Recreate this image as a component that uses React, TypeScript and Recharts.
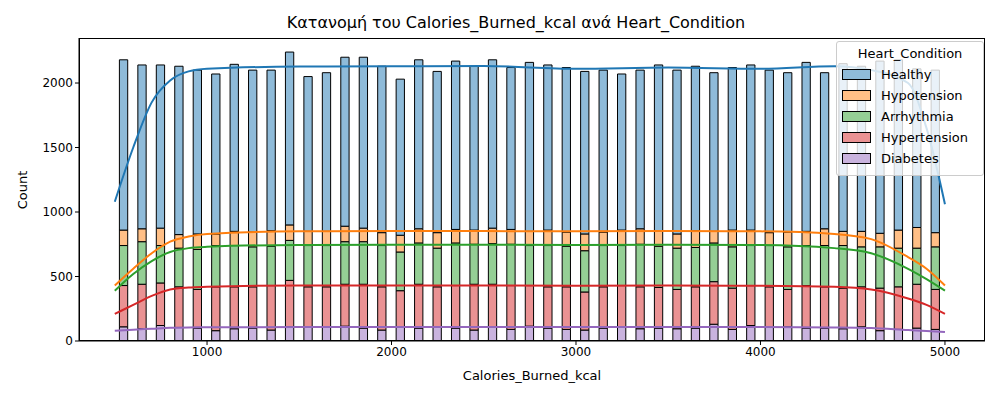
import React from "react"
import { ComposedChart, Bar, Line, XAxis, YAxis } from "recharts"

// histogram bins: 45 bins of width 100 from 500 to 5000 (centers)
const binCenters = [
  550, 650, 750, 850, 950, 1050, 1150, 1250, 1350, 1450, 1550, 1650, 1750, 1850, 1950,
  2050, 2150, 2250, 2350, 2450, 2550, 2650, 2750, 2850, 2950, 3050, 3150, 3250, 3350, 3450,
  3550, 3650, 3750, 3850, 3950, 4050, 4150, 4250, 4350, 4450, 4550, 4650, 4750, 4850, 4950,
]
const diabetes = [110, 95, 120, 105, 100, 80, 95, 100, 85, 110, 105, 110, 115, 100, 85, 110, 100, 110, 100, 85, 110, 90, 115, 100, 90, 85, 100, 110, 95, 100, 95, 100, 130, 90, 120, 105, 110, 100, 100, 95, 110, 80, 90, 100, 90]
const hypertension = [320, 345, 330, 315, 300, 340, 325, 320, 345, 360, 315, 310, 325, 340, 335, 280, 340, 310, 330, 355, 330, 340, 315, 320, 330, 295, 320, 320, 325, 315, 305, 320, 330, 320, 310, 315, 290, 330, 320, 315, 310, 330, 330, 340, 310]
const arrhythmia = [310, 330, 290, 300, 310, 320, 320, 310, 305, 310, 320, 320, 330, 330, 320, 300, 320, 300, 330, 310, 315, 320, 310, 320, 315, 320, 320, 310, 330, 320, 320, 305, 300, 320, 310, 320, 330, 310, 320, 330, 310, 320, 300, 280, 330]
const hypotension = [120, 100, 135, 105, 120, 90, 110, 115, 120, 120, 110, 110, 120, 105, 100, 130, 110, 120, 105, 110, 120, 115, 110, 120, 110, 130, 105, 120, 120, 120, 110, 130, 90, 130, 120, 100, 115, 110, 130, 110, 120, 105, 140, 160, 110]
const healthy = [1320, 1270, 1265, 1305, 1270, 1240, 1295, 1255, 1245, 1340, 1200, 1230, 1310, 1325, 1290, 1210, 1310, 1250, 1305, 1270, 1305, 1255, 1310, 1280, 1275, 1260, 1255, 1210, 1230, 1285, 1270, 1275, 1230, 1260, 1280, 1260, 1235, 1310, 1210, 1300, 1280, 1335, 1320, 1230, 1260]

// stacked KDE curves (cumulative heights)
const kdeX = [500, 600, 700, 800, 900, 1000, 1500, 2000, 2500, 3000, 3500, 4000, 4400, 4600, 4800, 4900, 5000]
const kdeHealthy = [1080, 1500, 1850, 2020, 2090, 2110, 2128, 2130, 2132, 2110, 2120, 2110, 2130, 2100, 2000, 1650, 1060]
const kdeHypotension = [430, 560, 680, 770, 810, 830, 850, 852, 852, 850, 852, 850, 830, 790, 650, 560, 430]
const kdeArrhythmia = [390, 520, 620, 690, 720, 730, 745, 746, 746, 745, 746, 745, 720, 680, 560, 480, 390]
const kdeHypertension = [210, 280, 350, 400, 415, 420, 430, 430, 430, 428, 430, 428, 420, 400, 330, 280, 210]
const kdeDiabetes = [80, 88, 95, 102, 105, 106, 108, 108, 108, 108, 108, 108, 105, 100, 85, 78, 70]

const series = [
  { key: "diabetes", name: "Diabetes", fill: "#c9b3de" },
  { key: "hypertension", name: "Hypertension", fill: "#ea9293" },
  { key: "arrhythmia", name: "Arrhythmia", fill: "#95cf95" },
  { key: "hypotension", name: "Hypotension", fill: "#ffbf86" },
  { key: "healthy", name: "Healthy", fill: "#8fbbd9" },
]

const barData = binCenters.map((x, i) => ({
  x,
  diabetes: diabetes[i],
  hypertension: hypertension[i],
  arrhythmia: arrhythmia[i],
  hypotension: hypotension[i],
  healthy: healthy[i],
}))

const kdeData = kdeX.map((x, i) => ({
  x,
  kHealthy: kdeHealthy[i],
  kHypotension: kdeHypotension[i],
  kArrhythmia: kdeArrhythmia[i],
  kHypertension: kdeHypertension[i],
  kDiabetes: kdeDiabetes[i],
}))

const kdeLines = [
  { key: "kDiabetes", color: "#9467bd" },
  { key: "kHypertension", color: "#d62728" },
  { key: "kArrhythmia", color: "#2ca02c" },
  { key: "kHypotension", color: "#ff7f0e" },
  { key: "kHealthy", color: "#1f77b4" },
]

const font = "DejaVu Sans, sans-serif"
const tick = { fill: "#000", fontSize: 12, fontFamily: font }

export default function App() {
  return (
    <div style={{ position: "absolute", left: 0, top: 0, width: 1000, height: 400, background: "#fff", fontFamily: font }}>
      <div style={{ position: "absolute", top: 13, left: 32, width: 968, textAlign: "center", fontSize: 16 }}>
        Κατανομή του Calories_Burned_kcal ανά Heart_Condition
      </div>
      <ComposedChart width={1000} height={400} data={barData} margin={{ top: 38, right: 15, bottom: 29, left: 0 }} barCategoryGap={0} barGap={0}>
        <XAxis
          dataKey="x"
          type="number"
          domain={[306, 5217]}
          ticks={[1000, 2000, 3000, 4000, 5000]}
          tick={tick}
          stroke="#000"
          tickSize={4}
          allowDataOverflow
        />
        <YAxis width={79} domain={[0, 2349]} ticks={[0, 500, 1000, 1500, 2000]} tick={tick} stroke="#000" tickSize={4} allowDataOverflow />
        {series.map((s) => (
          <Bar key={s.key} dataKey={s.key} stackId="h" fill={s.fill} stroke="#000" strokeWidth={1} barSize={18.45} isAnimationActive={false} />
        ))}
        {kdeLines.map((l) => (
          <Line key={l.key} data={kdeData} dataKey={l.key} type="monotone" stroke={l.color} strokeWidth={2} dot={false} isAnimationActive={false} />
        ))}
      </ComposedChart>
      <div style={{ position: "absolute", left: 79, top: 38, width: 906, height: 303, border: "1px solid #000", boxSizing: "border-box", pointerEvents: "none" }} />
      <div style={{ position: "absolute", top: 368, left: 79, width: 906, textAlign: "center", fontSize: 13 }}>Calories_Burned_kcal</div>
      <div style={{ position: "absolute", left: 22, top: 190, fontSize: 13, transform: "translate(-50%,-50%) rotate(-90deg)" }}>Count</div>
      <div
        style={{
          position: "absolute", left: 836, top: 41, width: 146, padding: "4px 0 6px 0",
          border: "1px solid #ccc", borderRadius: 3, background: "rgba(255,255,255,0.8)", fontSize: 13,
        }}
      >
        <div style={{ textAlign: "center", marginBottom: 3 }}>Heart_Condition</div>
        {[...series].reverse().map((s) => (
          <div key={s.key} style={{ display: "flex", alignItems: "center", height: 21, paddingLeft: 5 }}>
            <span style={{ width: 27, height: 9, background: s.fill, border: "1px solid #000", marginRight: 10 }} />
            {s.name}
          </div>
        ))}
      </div>
    </div>
  )
}
